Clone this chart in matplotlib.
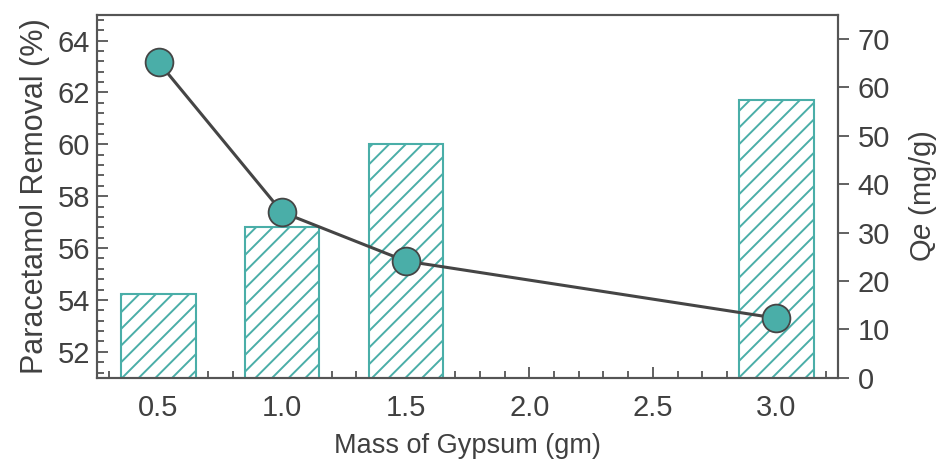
import matplotlib
matplotlib.use("Agg")
import matplotlib.pyplot as plt
from matplotlib.ticker import MultipleLocator, AutoMinorLocator

plt.rcParams['font.family'] = ['Liberation Sans', 'DejaVu Sans']
plt.rcParams['mathtext.fontset'] = 'custom'
plt.rcParams['mathtext.rm'] = 'Liberation Sans'
plt.rcParams['mathtext.it'] = 'Liberation Sans:italic'
plt.rcParams['hatch.linewidth'] = 1.4

mass = [0.5, 1.0, 1.5, 3.0]
removal = [54.23, 56.82, 60.03, 61.7]
qe = [65.2, 34.2, 24.1, 12.3]

xticks = [0.5, 1.0, 1.5, 2.0, 2.5, 3.0]
left_ticks = [52, 54, 56, 58, 60, 62, 64]
right_ticks = [0, 10, 20, 30, 40, 50, 60, 70]

teal = '#4aaea8'
dark = '#454545'
spine_c = '#555555'
txt_c = '#404040'
fs = 21

fig = plt.figure(figsize=(9.4, 4.65), dpi=100)
ax1 = fig.add_axes([0.1029, 0.1877, 0.7889, 0.7807])
ax2 = ax1.twinx()

ax1.bar(mass, removal, width=0.3, bottom=0, color='white', edgecolor=teal,
        hatch='//', linewidth=1.5, zorder=2)
ax1.set_xlim(0.25, 3.25)
ax1.set_ylim(51, 65)
ax1.set_xticks(xticks)
ax1.set_xticklabels([f"{v:.1f}" for v in xticks])
ax1.set_yticks(left_ticks)
ax1.xaxis.set_minor_locator(MultipleLocator(0.1))
ax1.yaxis.set_minor_locator(AutoMinorLocator(5))
ax1.tick_params(axis='both', which='both', direction='in', colors=spine_c,
                labelcolor=txt_c, labelsize=fs, width=1.3)
ax1.tick_params(which='major', length=8)
ax1.tick_params(which='minor', length=5)
ax1.tick_params(axis='x', pad=12)
ax1.tick_params(axis='y', pad=5)
ax1.set_xlabel('Mass of Gypsum (gm)', fontsize=19.5, color=txt_c, labelpad=8)
ax1.set_ylabel('Paracetamol Removal (%)', fontsize=22, color=txt_c, labelpad=5)

ax2.plot(mass, qe, color=dark, linewidth=2.2, marker='o', markersize=20,
         markerfacecolor=teal, markeredgecolor=dark, markeredgewidth=1.3, zorder=3)
ax2.set_ylim(0, 75)
ax2.set_yticks(right_ticks)
ax2.tick_params(axis='y', which='major', direction='out', length=8, width=1.3,
                colors=spine_c, labelcolor=txt_c, labelsize=fs, pad=6)
ax2.set_ylabel(r'Q$\mathit{e}$ (mg/g)', fontsize=fs, color=txt_c, labelpad=12)

for ax in (ax1, ax2):
    for s in ax.spines.values():
        s.set_color(spine_c)
        s.set_linewidth(1.5)

fig.savefig('out.png', dpi=100)
